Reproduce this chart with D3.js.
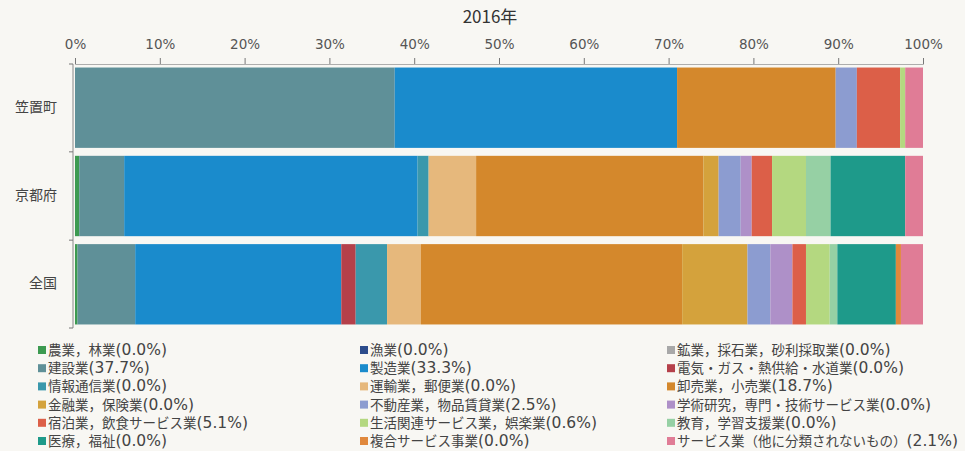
<!DOCTYPE html>
<meta charset="utf-8">
<script src="https://cdn.jsdelivr.net/npm/d3@7"></script>
<style>
  body { margin: 0; background: #f8f7f3; }
  text { font-family: "Noto Sans CJK JP", "DejaVu Sans", sans-serif; }
</style>
<div id="my_dataviz"></div>
<script>

// areas (rows of the chart)
var areas = ["笠置町", "京都府", "全国"];

// industries, in stacking order
var industries = ["農業，林業", "漁業", "鉱業，採石業，砂利採取業", "建設業", "製造業",
  "電気・ガス・熱供給・水道業", "情報通信業", "運輸業，郵便業", "卸売業，小売業", "金融業，保険業",
  "不動産業，物品賃貸業", "学術研究，専門・技術サービス業", "宿泊業，飲食サービス業",
  "生活関連サービス業，娯楽業", "教育，学習支援業", "医療，福祉", "複合サービス事業",
  "サービス業（他に分類されないもの）"];

var colors = ["#3c9a50", "#2c4c8c", "#a8a8a8", "#5f9098", "#1a8bcc",
  "#b5404a", "#3a98ac", "#e6b87c", "#d4882c", "#d4a23c",
  "#8c9cd0", "#ae90c8", "#dc5f48", "#b4d880", "#96d0a4",
  "#1e9a8a", "#e0883c", "#e07c96"];

// shares (%) per industry for each area
var kasagi = [0, 0, 0, 37.7, 33.3, 0, 0, 0, 18.7, 0, 2.5, 0, 5.1, 0.6, 0, 0, 0, 2.1];
var kyoto  = [0.5, 0, 0, 5.3, 34.6, 0, 1.3, 5.6, 26.8, 1.8, 2.6, 1.3, 2.4, 4.0, 2.9, 8.8, 0, 2.1];
var zenkoku = [0.3, 0, 0, 6.8, 24.3, 1.7, 3.7, 4.0, 30.8, 7.7, 2.7, 2.6, 1.6, 2.8, 0.9, 6.9, 0.6, 2.6];

var tickValues = [0, 10, 20, 30, 40, 50, 60, 70, 80, 90, 100];

var width = 965, height = 451;

var svg = d3.select("#my_dataviz")
  .append("svg")
    .attr("width", width)
    .attr("height", height);

// build rows for d3.stack
var rows = [kasagi, kyoto, zenkoku].map(function(vals, i) {
  var r = {area: areas[i]};
  industries.forEach(function(k, j) { r[k] = vals[j]; });
  return r;
});

var stacked = d3.stack().keys(industries)(rows);

var x = d3.scaleLinear()
  .domain([0, 100])
  .range([75, 923]);

var y = d3.scaleBand()
  .domain(areas)
  .range([64, 328])
  .paddingInner(0.09)
  .paddingOuter(0.04);

var color = d3.scaleOrdinal()
  .domain(industries)
  .range(colors);

// title
svg.append("text")
  .attr("x", 490)
  .attr("y", 23)
  .attr("text-anchor", "middle")
  .style("font-size", "17px")
  .style("fill", "#333")
  .text("2016年");

// bars
svg.append("g")
  .selectAll("g")
  .data(stacked)
  .enter()
  .append("g")
    .attr("fill", function(d) { return color(d.key); })
  .selectAll("rect")
  .data(function(d) { return d; })
  .enter()
  .append("rect")
    .attr("x", function(d) { return x(d[0]); })
    .attr("y", function(d) { return y(d.data.area); })
    .attr("width", function(d) { return x(d[1]) - x(d[0]); })
    .attr("height", y.bandwidth());

// top axis
var xAxis = svg.append("g")
  .attr("transform", "translate(0,64)")
  .call(d3.axisTop(x).tickValues(tickValues).tickSize(6).tickPadding(9)
    .tickFormat(function(d) { return d + "%"; }));
xAxis.select(".domain").attr("stroke", "#999").attr("stroke-width", 0.8);
xAxis.selectAll(".tick line").attr("stroke", "#777");
xAxis.selectAll("text")
  .style("font-size", "13.5px")
  .style("fill", "#555")
  .style("font-family", "'DejaVu Sans', sans-serif");

// left axis line with ticks on band boundaries
var yTop = y.range()[0], yBot = y.range()[1];
svg.append("line")
  .attr("x1", 73).attr("x2", 73)
  .attr("y1", yTop).attr("y2", yBot)
  .attr("stroke", "#888").attr("stroke-width", 1);
var bounds = [yTop].concat(areas.map(function(a) {
  return y(a) + y.bandwidth() + y.step() * y.paddingInner() / 2;
}));
bounds[bounds.length - 1] = yBot;
svg.append("g")
  .selectAll("line")
  .data(bounds)
  .enter()
  .append("line")
    .attr("x1", 69).attr("x2", 73)
    .attr("y1", function(d) { return d; })
    .attr("y2", function(d) { return d; })
    .attr("stroke", "#777");

svg.append("g")
  .selectAll("text")
  .data(areas)
  .enter()
  .append("text")
    .attr("x", 57)
    .attr("y", function(d) { return y(d) + y.bandwidth() / 2; })
    .attr("text-anchor", "end")
    .attr("dominant-baseline", "middle")
    .style("font-size", "14px")
    .style("fill", "#444")
    .text(function(d) { return d; });

// legend (3 columns, row-wise order, values for 笠置町)
var colX = [38, 360, 667];
var legend = svg.append("g")
  .selectAll("g")
  .data(industries)
  .enter()
  .append("g")
    .attr("transform", function(d, i) {
      return "translate(" + colX[i % 3] + "," + (350 + Math.floor(i / 3) * 18.2) + ")";
    });

legend.append("rect")
  .attr("x", 0)
  .attr("y", -4)
  .attr("width", 8)
  .attr("height", 8)
  .attr("fill", function(d) { return color(d); });

var lt = legend.append("text")
  .attr("x", 10)
  .attr("y", 5)
  .style("fill", "#444");
lt.append("tspan")
  .style("font-size", "13.5px")
  .text(function(d) { return d; });
lt.append("tspan")
  .style("font-size", "15.5px")
  .style("font-family", "'DejaVu Sans', sans-serif")
  .text(function(d, i) { return "(" + kasagi[i].toFixed(1) + "%)"; });

</script>
